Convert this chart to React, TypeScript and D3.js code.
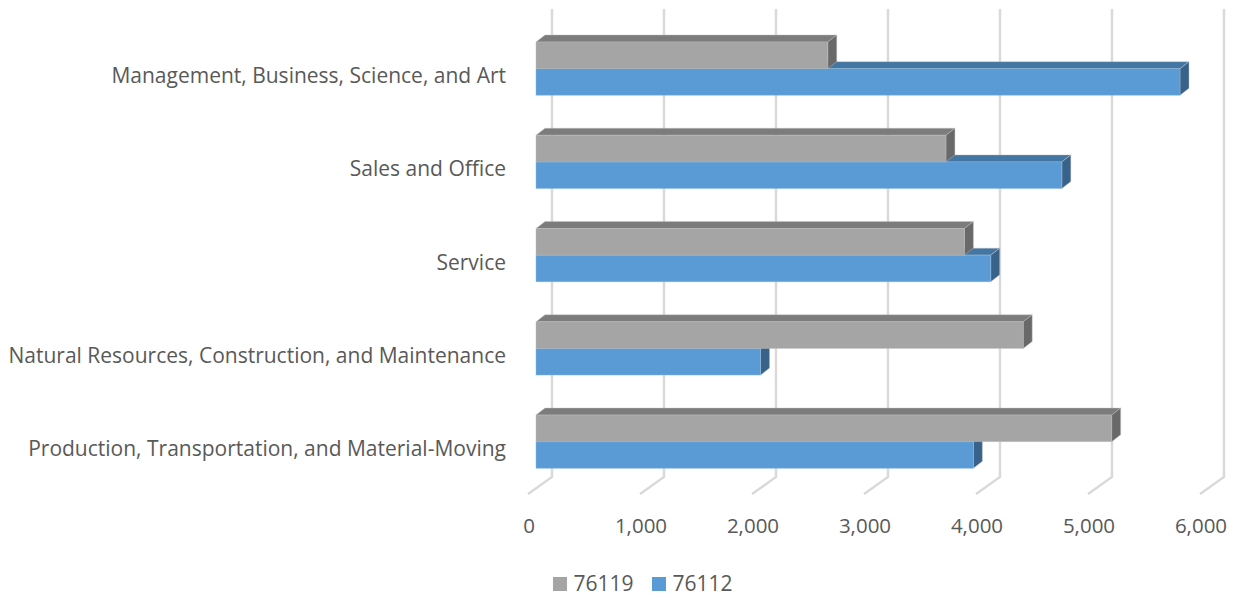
import React, { useEffect, useRef } from "react";
import * as d3 from "d3";

const categories = [
  "Management, Business, Science, and Art",
  "Sales and Office",
  "Service",
  "Natural Resources, Construction, and Maintenance",
  "Production, Transportation, and Material-Moving",
];
const values76119 = [2605, 3660, 3825, 4350, 5140];
const values76112 = [5750, 4695, 4060, 2005, 3905];
const tickValues = [0, 1000, 2000, 3000, 4000, 5000, 6000];
const seriesNames = ["76119", "76112"];

const width = 1238;
const height = 595;
const depthX = 9;
const depthY = 7;
const font = "'Open Sans', sans-serif";
const textColor = "#595959";

// colours: front, top, side
const colors: Record<string, string[]> = {
  "76119": ["#a5a5a5", "#7c7c7c", "#696969"],
  "76112": ["#5b9bd5", "#4476a3", "#38628a"],
};

export default function App() {
  const ref = useRef<SVGSVGElement>(null);

  useEffect(() => {
    const svg = d3.select(ref.current);
    svg.selectAll("*").remove();

    const x = d3.scaleLinear().domain([0, 6000]).range([536, 1208]);
    const y = d3.scaleBand().domain(categories).range([22, 488.3]).paddingInner(0.4286).paddingOuter(0.2143);
    const inner = d3.scaleBand().domain(seriesNames).range([0, y.bandwidth()]);

    // gridlines with the slanted floor piece
    const grid = svg.append("g");
    tickValues.forEach((t) => {
      grid.append("path")
        .attr("d", `M${x(t) + 16},9 V477 L${x(t) - 8},494`)
        .attr("fill", "none")
        .attr("stroke", "#d9d9d9")
        .attr("stroke-width", 2.4);
      svg.append("text")
        .attr("x", x(t) - 7)
        .attr("y", 532.5)
        .attr("text-anchor", "middle")
        .attr("font-family", font)
        .attr("font-size", 20.5)
        .attr("fill", textColor)
        .text(d3.format(",")(t));
    });

    // blue first so the grey bar sits over its top face
    const drawBars = (name: string, vals: number[]) => {
      const [front, top, side] = colors[name];
      categories.forEach((c, i) => {
        const x0 = x(0);
        const x1 = x(vals[i]);
        const y0 = y(c)! + inner(name)!;
        const y1 = y0 + inner.bandwidth();
        const g = svg.append("g").attr("stroke-width", 0.8).attr("stroke-opacity", 0.55);
        g.append("path")
          .attr("d", `M${x0},${y0} L${x0 + depthX},${y0 - depthY} H${x1 + depthX} L${x1},${y0} Z`)
          .attr("fill", top)
          .attr("stroke", "#c4c4c4");
        g.append("path")
          .attr("d", `M${x1},${y0} L${x1 + depthX},${y0 - depthY} V${y1 - depthY} L${x1},${y1} Z`)
          .attr("fill", side)
          .attr("stroke", "#c4c4c4");
        g.append("rect")
          .attr("x", x0)
          .attr("y", y0)
          .attr("width", x1 - x0)
          .attr("height", y1 - y0)
          .attr("fill", front)
          .attr("stroke", name === "76112" ? "#8dbbe6" : "#bdbdbd");
      });
    };
    drawBars("76112", values76112);
    drawBars("76119", values76119);

    categories.forEach((c) => {
      svg.append("text")
        .attr("x", 506)
        .attr("y", y(c)! + y.bandwidth() / 2 + 14.5)
        .attr("text-anchor", "end")
        .attr("font-family", font)
        .attr("font-size", 21)
        .attr("fill", textColor)
        .text(c);
    });

    // legend
    const legendX = [553, 652];
    seriesNames.forEach((name, i) => {
      svg.append("rect")
        .attr("x", legendX[i])
        .attr("y", 577)
        .attr("width", 14)
        .attr("height", 14)
        .attr("fill", colors[name][0]);
      svg.append("text")
        .attr("x", legendX[i] + 20.5)
        .attr("y", 590.5)
        .attr("font-family", font)
        .attr("font-size", 21)
        .attr("fill", textColor)
        .text(name);
    });
  }, []);

  return (
    <svg
      ref={ref}
      width={width}
      height={height}
      style={{ position: "absolute", left: 0, top: 0, background: "#fff" }}
    />
  );
}
